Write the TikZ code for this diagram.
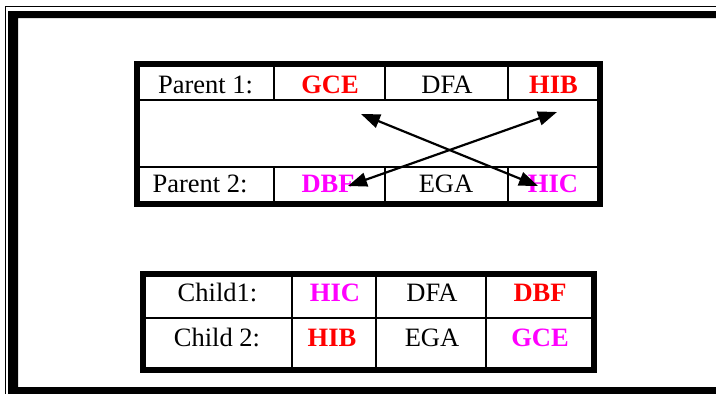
\documentclass[tikz,border=0pt]{standalone}
\usepackage{fontspec}
\setmainfont{Liberation Serif}
\usetikzlibrary{arrows.meta}
\definecolor{cred}{RGB}{255,0,0}
\definecolor{cmag}{RGB}{255,0,255}
\begin{document}
\begin{tikzpicture}[x=1pt,y=-1pt,
  txt/.style={font=\fontsize{26.5}{30}\selectfont, anchor=base, inner sep=0pt},
  redtxt/.style={txt, font=\fontsize{26.5}{30}\selectfont\bfseries, text=cred},
  magtxt/.style={txt, font=\fontsize{26.5}{30}\selectfont\bfseries, text=cmag},
  outerbox/.style={line width=5.8pt},
  gridline/.style={line width=2pt},
  swap/.style={line width=2.2pt, {Triangle[length=19pt,width=14pt]}-{Triangle[length=19pt,width=14pt]}}
]
\useasboundingbox (0,0) rectangle (716,394);
\begin{scope}
\clip (0,0) rectangle (716,394);
% page frame
\draw[line width=1.3pt] (5.5,420) -- (5.5,6.5) -- (740,6.5);
\fill[even odd rule] (8,11) rectangle (740,420) (18,18) rectangle (730,387);
\end{scope}

% parent table
\draw[outerbox] (137,64) rectangle (600,204);
\draw[gridline] (140,100) -- (597,100);
\draw[gridline] (140,166.5) -- (597,166.5);
\foreach \x in {274,385,508}{
  \draw[gridline] (\x,67) -- (\x,100);
  \draw[gridline] (\x,166.5) -- (\x,201);
}
\node[txt] (p1l) at (205.5,93) {Parent 1:};
\node[redtxt] (p1a) at (330,93) {GCE};
\node[txt] (p1b) at (447,93) {DFA};
\node[redtxt] (p1c) at (553.5,93) {HIB};
\node[txt] (p2l) at (200,192.7) {Parent 2:};
\node[magtxt] (p2a) at (328,192.7) {DBF};
\node[txt] (p2b) at (446,192.7) {EGA};
\node[magtxt] (p2c) at (553,192.7) {HIC};

% arrows
\coordinate (a1s) at (538,186);
\coordinate (a1e) at (361,114);
\coordinate (a2s) at (348,186);
\coordinate (a2e) at (557,112);
\draw[swap] (a1s) -- (a1e);
\draw[swap] (a2s) -- (a2e);

% child table
\draw[outerbox] (143.3,274) rectangle (594.3,369.7);
\draw[gridline] (146,318) -- (591.5,318);
\foreach \x in {292,376,486}{
  \draw[gridline] (\x,276.8) -- (\x,367);
}
\node[txt] (c1l) at (217.5,301.7) {Child1:};
\node[magtxt] (c1a) at (335,301.7) {HIC};
\node[txt] (c1b) at (432,301.7) {DFA};
\node[redtxt] (c1c) at (540,301.7) {DBF};
\node[txt] (c2l) at (217,346) {Child 2:};
\node[redtxt] (c2a) at (332,346) {HIB};
\node[txt] (c2b) at (432,346) {EGA};
\node[magtxt] (c2c) at (540,346) {GCE};
\end{tikzpicture}
\end{document}
